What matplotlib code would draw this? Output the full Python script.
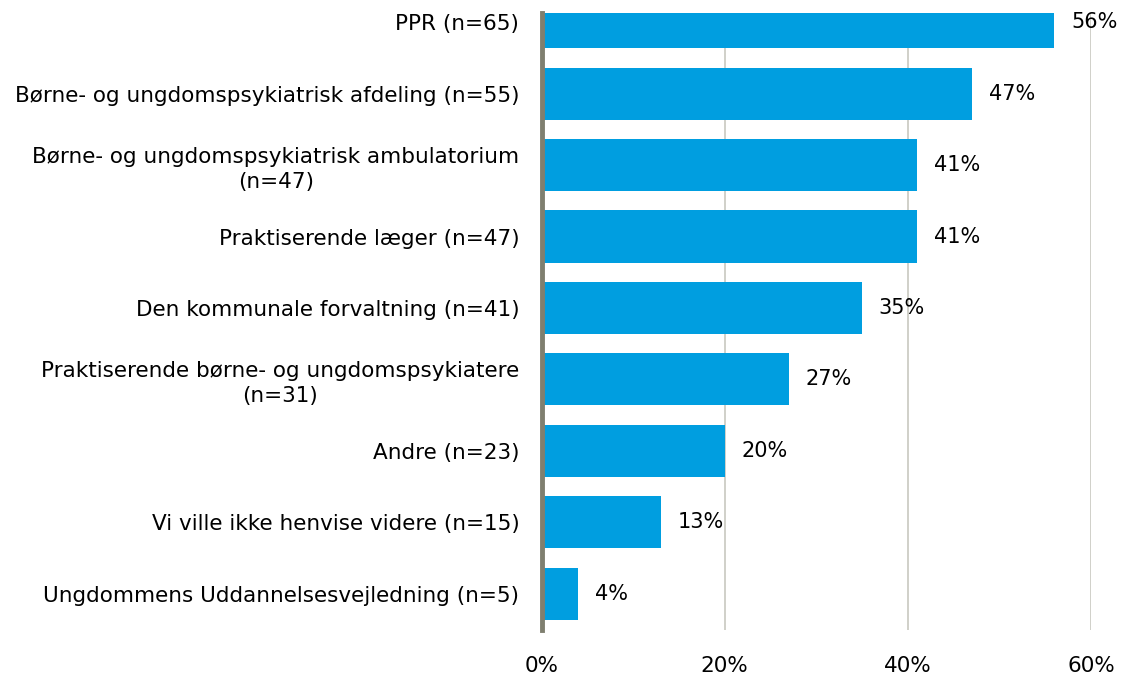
import matplotlib
matplotlib.use("Agg")
import matplotlib.pyplot as plt
from matplotlib.ticker import FuncFormatter

categories = [
    "PPR (n=65)",
    "Børne- og ungdomspsykiatrisk afdeling (n=55)",
    "Børne- og ungdomspsykiatrisk ambulatorium\n(n=47)",
    "Praktiserende læger (n=47)",
    "Den kommunale forvaltning (n=41)",
    "Praktiserende børne- og ungdomspsykiatere\n(n=31)",
    "Andre (n=23)",
    "Vi ville ikke henvise videre (n=15)",
    "Ungdommens Uddannelsesvejledning (n=5)",
]
values = [56, 47, 41, 41, 35, 27, 20, 13, 4]
xticks = [0, 20, 40, 60]

plt.rcParams['font.family'] = ['DejaVu Sans']
fig = plt.figure(figsize=(11.21, 6.75), dpi=100)
ax = fig.add_axes([541.5 / 1121, 1 - 630 / 675, (1091 - 541.5) / 1121, (630 - 13) / 675])

pos = list(range(len(categories)))
ax.barh(pos, values, height=0.73, color='#009EE0', zorder=3)
ax.set_ylim(8.51, -0.13)
ax.set_xlim(0, 60)

for p, v in zip(pos, values):
    ax.annotate(f"{v}%", xy=(v, p), xytext=(12, 0), textcoords='offset points',
                va='center', ha='left', fontsize=15, color='black', clip_on=False, zorder=4)

ax.set_yticks(pos)
ax.set_yticklabels(categories, fontsize=15.5, linespacing=1.3)
for lab in ax.get_yticklabels():
    lab.set_multialignment('center')
ax.set_xticks(xticks)
ax.xaxis.set_major_formatter(FuncFormatter(lambda x, _: f"{int(x)}%"))
ax.tick_params(axis='x', length=0, pad=19, labelsize=15.5)
ax.tick_params(axis='y', length=0, pad=16)

ax.grid(axis='x', color='#C8C8C0', linewidth=1.2, zorder=0)
ax.grid(axis='y', visible=False)
for s in ['top', 'right', 'bottom']:
    ax.spines[s].set_visible(False)
ax.spines['left'].set_color('#7F7F6F')
ax.spines['left'].set_linewidth(3.5)
ax.spines['left'].set_zorder(5)

fig.savefig("out.png", dpi=100)
